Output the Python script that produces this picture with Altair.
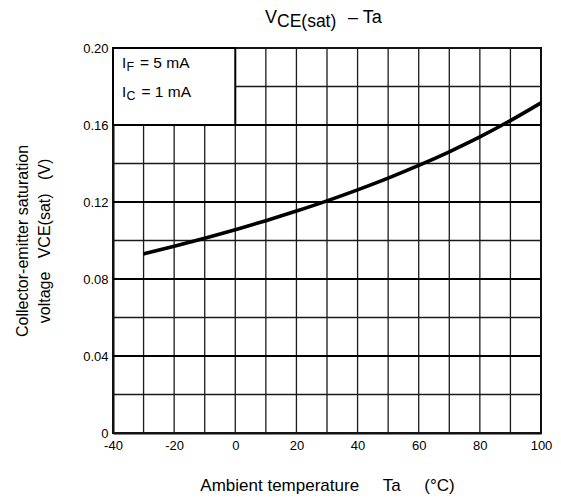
import altair as alt
import pandas as pd

# ---- data ----
temps = [-30, -20, -10, 0, 10, 20, 30, 40, 50, 60, 70, 80, 90, 100]
vce = [0.0930, 0.0970, 0.1012, 0.1056, 0.1103, 0.1153, 0.1206, 0.1263,
       0.1324, 0.1390, 0.1461, 0.1538, 0.1623, 0.1715]

x_ticks = [-40, -30, -20, -10, 0, 10, 20, 30, 40, 50, 60, 70, 80, 90, 100]
y_ticks = [0.0, 0.02, 0.04, 0.06, 0.08, 0.10, 0.12, 0.14, 0.16, 0.18, 0.20]
y_major = [0.04, 0.08, 0.12, 0.16]

box_x = [-40, 0]
box_y = [0.16, 0.20]

FONT = "Liberation Sans"
NB = "\u00a0"

xscale = alt.Scale(domain=[-40, 100], nice=False, zero=False)
yscale = alt.Scale(domain=[0, 0.2], nice=False, zero=False)

x_axis = alt.Axis(
    values=x_ticks,
    labelExpr="datum.value % 20 == 0 ? '' + datum.value : ''",
    grid=False,
    ticks=False, domain=True, domainColor="black", domainWidth=2,
    labelFont=FONT, labelFontSize=13, labelColor="black", labelPadding=6,
    labelOverlap=False, labelFlush=False,
    title="Ambient temperature" + NB * 5 + "Ta" + NB * 5 + "(°C)",
    titleFont=FONT, titleFontSize=17, titleFontWeight="normal",
    titleColor="black", titlePadding=25,
)
y_axis = alt.Axis(
    values=y_ticks,
    labelExpr="datum.value == 0 ? '0' : (round(datum.value*100) % 4 == 0 ? format(datum.value, '.2f') : '')",
    grid=False,
    ticks=False, domain=True, domainColor="black", domainWidth=2,
    labelFont=FONT, labelFontSize=13, labelColor="black", labelPadding=5,
    labelOverlap=False, labelFlush=False,
    title=["Collector-emitter saturation",
           "voltage" + NB * 3 + "VCE(sat)" + NB * 3 + "(V)"],
    titleFont=FONT, titleFontSize=16, titleFontWeight="normal",
    titleColor="black", titlePadding=30, titleLineHeight=22,
)


def X(field):
    return alt.X(field, type="quantitative", scale=xscale, axis=x_axis)


def Y(field):
    return alt.Y(field, type="quantitative", scale=yscale, axis=y_axis)


curve_df = pd.DataFrame({"t": temps, "v": vce})
xgrid_df = pd.DataFrame({"t": x_ticks})
ygrid_df = pd.DataFrame({"v": y_ticks})
major_df = pd.DataFrame({"v": y_major})
box_df = pd.DataFrame({"x0": [box_x[0]], "x1": [box_x[1]],
                       "y0": [box_y[0]], "y1": [box_y[1]]})

xgrid = alt.Chart(xgrid_df).mark_rule(color="#1a1a1a", strokeWidth=1.3).encode(x=X("t"))
ygrid = alt.Chart(ygrid_df).mark_rule(color="#1a1a1a", strokeWidth=1.3).encode(y=Y("v"))
major = alt.Chart(major_df).mark_rule(color="black", strokeWidth=1.9).encode(y=Y("v"))

box = alt.Chart(box_df).mark_rect(fill="white", stroke="black", strokeWidth=2).encode(
    x=X("x0"), x2="x1", y=Y("y0"), y2="y1"
)

curve = alt.Chart(curve_df).mark_line(
    color="black", strokeWidth=3.6, interpolate="monotone"
).encode(x=X("t"), y=Y("v"))

# legend annotation texts inside the box
leg = []
for (main, sub, rest, yv, dx_rest) in [("I", "F", "= 5 mA", 0.1896, 27),
                                        ("I", "C", "= 1 mA", 0.1745, 28.5)]:
    leg.append(alt.Chart().mark_text(align="left", baseline="alphabetic", font=FONT,
                                     fontSize=15, dx=9, color="black")
               .encode(x=alt.datum(-40), y=alt.datum(yv), text=alt.value(main)))
    leg.append(alt.Chart().mark_text(align="left", baseline="alphabetic", font=FONT,
                                     fontSize=12.5, dx=13.5, dy=3, color="black")
               .encode(x=alt.datum(-40), y=alt.datum(yv), text=alt.value(sub)))
    leg.append(alt.Chart().mark_text(align="left", baseline="alphabetic", font=FONT,
                                     fontSize=15.5, dx=dx_rest, color="black")
               .encode(x=alt.datum(-40), y=alt.datum(yv), text=alt.value(rest)))

# chart title with subscript
title_parts = [
    alt.Chart().mark_text(align="left", baseline="alphabetic", font=FONT, fontSize=18,
                          color="black")
    .encode(x=alt.value(152), y=alt.value(-25), text=alt.value("V")),
    alt.Chart().mark_text(align="left", baseline="alphabetic", font=FONT, fontSize=17.5,
                          color="black")
    .encode(x=alt.value(164), y=alt.value(-21), text=alt.value("CE(sat)")),
    alt.Chart().mark_text(align="left", baseline="alphabetic", font=FONT, fontSize=18,
                          color="black")
    .encode(x=alt.value(235), y=alt.value(-25), text=alt.value("– Ta")),
]

chart = alt.layer(xgrid, ygrid, major, curve, box, *leg, *title_parts).properties(
    width=428, height=385,
    autosize=alt.AutoSizeParams(type="none"),
    padding={"left": 105, "top": 40, "right": 12, "bottom": 62},
    background="white",
).configure_view(stroke="black", strokeWidth=2)

chart.save("out.html", embed_options={"renderer": "svg", "actions": False})
